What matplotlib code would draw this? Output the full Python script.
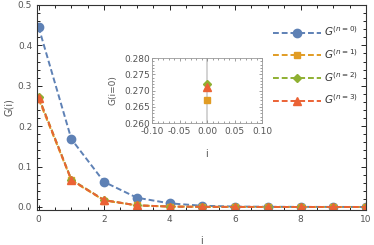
import numpy as np
import matplotlib
matplotlib.use("Agg")
from matplotlib import pyplot as plt
from matplotlib.ticker import MultipleLocator, AutoMinorLocator, FormatStrFormatter

# data
sites = [0, 1, 2, 3, 4, 5, 6, 7, 8, 9, 10]
g_n0 = [0.445, 0.168, 0.062, 0.023, 0.009, 0.003, 0.001, 0.0005, 0.0002, 0.0001, 0.0]
g_n1 = [0.267, 0.066, 0.016, 0.004, 0.001, 0.0003, 0.0001, 0.0, 0.0, 0.0, 0.0]
g_n2 = [0.272, 0.068, 0.017, 0.004, 0.001, 0.0003, 0.0001, 0.0, 0.0, 0.0, 0.0]
g_n3 = [0.271, 0.067, 0.017, 0.004, 0.001, 0.0003, 0.0001, 0.0, 0.0, 0.0, 0.0]
inset_vals = [g_n1[0], g_n2[0], g_n3[0]]
labels = [r"$G^{(n=0)}$", r"$G^{(n=1)}$", r"$G^{(n=2)}$", r"$G^{(n=3)}$"]

colors = ["#5E81B5", "#E19C24", "#8FB032", "#EB6235"]
markers = ["o", "s", "D", "^"]
msizes = [6, 4.5, 4.5, 5.5]
gray = "#555555"

plt.rcParams['font.family'] = ['DejaVu Sans']
fig = plt.figure(figsize=(3.74, 2.45), dpi=100)
ax = fig.add_axes([37/374, 35/245, 329/374, 205/245])

for ys, c, m, ms, lab in zip([g_n0, g_n1, g_n2, g_n3], colors, markers, msizes, labels):
    ax.plot(sites, ys, ls=(0, (3, 1.5)), lw=1.4, color=c, marker=m, ms=ms, label=lab)

ax.set_xlim(-0.05, 10)
ax.set_ylim(-0.0075, 0.5)
ax.xaxis.set_major_locator(MultipleLocator(2))
ax.xaxis.set_minor_locator(MultipleLocator(0.5))
ax.yaxis.set_major_locator(MultipleLocator(0.1))
ax.yaxis.set_minor_locator(AutoMinorLocator(5))
ax.tick_params(which='both', direction='in', top=True, right=True, labelsize=6.5, labelcolor=gray, color='black', width=0.6)
ax.tick_params(which='major', length=3.5)
ax.tick_params(which='minor', length=2)
for s in ax.spines.values():
    s.set_color('#333333')
    s.set_linewidth(0.8)
ax.set_xlabel("i", fontsize=7, color=gray, labelpad=9)
ax.set_ylabel("G(i)", fontsize=7, color=gray, labelpad=3)

leg = ax.legend(loc='upper right', bbox_to_anchor=(1.0, 0.945), frameon=False, fontsize=7.5,
                handlelength=4.6, handletextpad=0.3, labelspacing=0.85, borderpad=0.3)
for t in leg.get_texts():
    t.set_color('#333333')

# inset
axi = fig.add_axes([152/374, 122/245, 110/374, 65/245])
axi.axvline(0, color='#cccccc', lw=1.2, zorder=0)
for v, c, m, ms in zip(inset_vals, colors[1:], markers[1:], msizes[1:]):
    axi.plot([0], [v], ls='none', marker=m, ms=ms, color=c)
axi.set_xlim(-0.1, 0.1)
axi.set_ylim(0.26, 0.28)
axi.xaxis.set_major_locator(MultipleLocator(0.05))
axi.xaxis.set_minor_locator(MultipleLocator(0.01))
axi.yaxis.set_major_locator(MultipleLocator(0.005))
axi.yaxis.set_minor_locator(MultipleLocator(0.001))
axi.tick_params(which='both', direction='in', top=True, right=True, labelsize=6.5, labelcolor=gray, width=0.5, color='#777777')
axi.tick_params(which='major', length=2.5, pad=1.5)
axi.tick_params(axis='x', which='major', pad=3)
axi.tick_params(which='minor', length=1.2)
axi.xaxis.set_major_formatter(FormatStrFormatter('%.2f'))
axi.yaxis.set_major_formatter(FormatStrFormatter('%.3f'))
for s in axi.spines.values():
    s.set_color('#999999')
    s.set_linewidth(0.6)
axi.set_xlabel("i", fontsize=7, color=gray, labelpad=9)
axi.set_ylabel("G(i=0)", fontsize=6.5, color=gray, labelpad=5)

fig.savefig("out.png", dpi=100)
